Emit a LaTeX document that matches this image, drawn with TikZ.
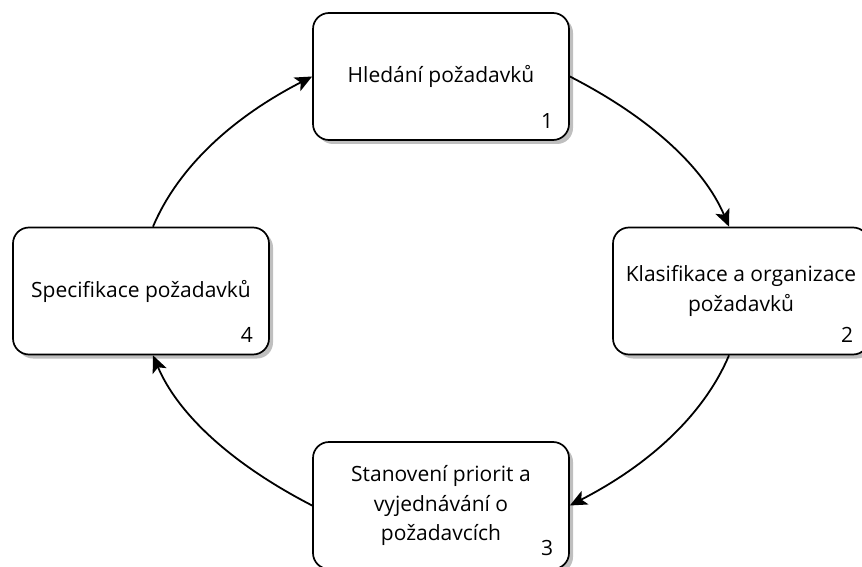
\documentclass[tikz,border=0pt]{standalone}
\usepackage{fontspec}
\setmainfont{Open Sans}
\usetikzlibrary{arrows.meta,shadows}
\begin{document}
\begin{tikzpicture}[x=1pt,y=-1pt,
  stagebox/.style={draw=black,line width=1.7pt,fill=white,rounded corners=16pt,
    minimum width=256pt,minimum height=127pt,inner sep=0pt,align=center,
    font=\fontsize{21}{29.5}\selectfont,
    drop shadow={shadow xshift=4pt,shadow yshift=-4pt,fill=black!25,opacity=1}},
  stagenum/.style={font=\fontsize{21}{29.5}\selectfont,inner sep=0pt},
  flow/.style={draw=black,line width=1.8pt,-{Stealth[length=17pt,width=15pt,inset=4pt]}}]
\useasboundingbox (0,0) rectangle (862,567);

% four stages of the cycle
\node[stagebox] (b1) at (441,76.5) {Hledání požadavků};
\node[stagebox] (b2) at (741,291) {Klasifikace a organizace\\požadavků};
\node[stagebox] (b3) at (441,505.5) {Stanovení priorit a\\vyjednávání o\\požadavcích};
\node[stagebox] (b4) at (141,291) {Specifikace požadavků};

% stage numbers in the lower right corners
\node[stagenum] (n1) at ([xshift=106pt,yshift=-44.5pt]b1.center) {1};
\node[stagenum] (n2) at ([xshift=106pt,yshift=-44pt]b2.center) {2};
\node[stagenum] (n3) at ([xshift=106pt,yshift=-42.5pt]b3.center) {3};
\node[stagenum] (n4) at ([xshift=106pt,yshift=-44pt]b4.center) {4};

% curved arrows between the stages
\draw[flow] (b1.east) .. controls (651,118) and (704.3,168.3) .. ([xshift=-12pt]b2.north);
\draw[flow] ([xshift=-12pt]b2.south) .. controls (704.3,413.7) and (651,463.7) .. (b3.east);
\draw[flow] (b3.west) .. controls (231,463.7) and (177.7,413.7) .. ([xshift=12pt]b4.south);
\draw[flow] ([xshift=12pt]b4.north) .. controls (177.7,168.3) and (231,118.3) .. (b1.west);
\end{tikzpicture}
\end{document}
